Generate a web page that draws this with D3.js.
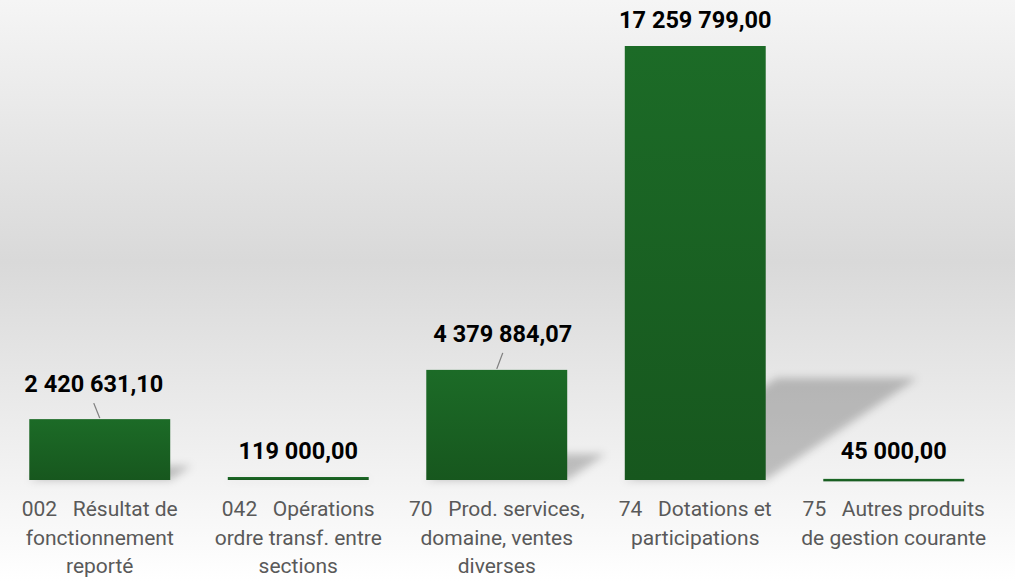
<!DOCTYPE html>
<html>
<head>
<meta charset="utf-8">
<script src="https://cdn.jsdelivr.net/npm/d3@7"></script>
<style>
  body { margin: 0; }
  svg { display: block; }
</style>
</head>
<body>
<div id="chart"></div>
<script>
// data
const codes = ["002", "042", "70", "74", "75"];
const labelLines = [
    ["002   Résultat de", "fonctionnement", "reporté"],
    ["042   Opérations", "ordre transf. entre", "sections"],
    ["70   Prod. services,", "domaine, ventes", "diverses"],
    ["74   Dotations et", "participations"],
    ["75   Autres produits", "de gestion courante"]
];
const amounts = [2420631.10, 119000.00, 4379884.07, 17259799.00, 45000.00];

// labels moved by hand in the original (dx, dy), with leader line
const labelNudge = [[-6, -9], [0, 0], [6, -10], [0, 0], [0, 0]];

const width = 1015, height = 581;
const baseY = 480, topY = 46;

const fr = d3.formatLocale({decimal: ",", thousands: " ", grouping: [3], currency: ["", " €"]});
const fmt = fr.format(",.2f");

const data = codes.map((c, i) => ({code: c, lines: labelLines[i], v: amounts[i], nudge: labelNudge[i]}));

const svg = d3.select("#chart").append("svg")
    .attr("width", width)
    .attr("height", height);

const defs = svg.append("defs");
const bg = defs.append("linearGradient").attr("id", "bg")
    .attr("x1", 0).attr("y1", 0).attr("x2", 0).attr("y2", 1);
bg.append("stop").attr("offset", "0%").attr("stop-color", "#f5f5f5");
bg.append("stop").attr("offset", "45%").attr("stop-color", "#d9d9d9");
bg.append("stop").attr("offset", "100%").attr("stop-color", "#ffffff");

const barGrad = defs.append("linearGradient").attr("id", "barGrad")
    .attr("x1", 0).attr("y1", 0).attr("x2", 0).attr("y2", 1);
barGrad.append("stop").attr("offset", "0%").attr("stop-color", "#1c6b27");
barGrad.append("stop").attr("offset", "100%").attr("stop-color", "#17571e");

defs.append("filter").attr("id", "blur")
    .attr("x", "-20%").attr("y", "-20%").attr("width", "140%").attr("height", "140%")
    .append("feGaussianBlur").attr("stdDeviation", 4);

svg.append("rect")
    .attr("width", width).attr("height", height)
    .attr("fill", "url(#bg)");

const x = d3.scaleBand()
    .domain(codes)
    .range([0.5, 993])
    .paddingInner(0.29)
    .paddingOuter(0.145);

const y = d3.scaleLinear()
    .domain([0, d3.max(amounts)])
    .range([baseY, topY]);

// perspective shadows
svg.append("g")
    .attr("filter", "url(#blur)")
    .selectAll("path")
    .data(data)
    .join("path")
    .attr("fill", "#000")
    .attr("fill-opacity", 0.22)
    .attr("d", d => {
        const x0 = x(d.code), x1 = x0 + x.bandwidth();
        const h = baseY - y(d.v);
        const sx = 0.35 * h, sy = 0.235 * h;
        return `M${x0},${baseY}L${x1},${baseY}L${x1 + sx},${baseY - sy}L${x0 + sx},${baseY - sy}Z`;
    });

// bars
svg.append("g")
    .selectAll("rect")
    .data(data)
    .join("rect")
    .attr("x", d => x(d.code))
    .attr("y", d => y(d.v))
    .attr("width", x.bandwidth())
    .attr("height", d => Math.max(2.5, baseY - y(d.v)))
    .attr("fill", "url(#barGrad)");

// leader lines
svg.append("g")
    .selectAll("line")
    .data(data.filter(d => d.nudge[1] !== 0))
    .join("line")
    .attr("x1", d => x(d.code) + x.bandwidth() / 2 + d.nudge[0])
    .attr("y1", d => y(d.v) - 18 + d.nudge[1] + 11)
    .attr("x2", d => x(d.code) + x.bandwidth() / 2)
    .attr("y2", d => y(d.v) - 1)
    .attr("stroke", "#808080")
    .attr("stroke-width", 1.3);

// value labels
svg.append("g")
    .selectAll("text")
    .data(data)
    .join("text")
    .attr("x", d => x(d.code) + x.bandwidth() / 2 + d.nudge[0])
    .attr("y", d => Math.min(y(d.v), baseY - 3) - 18 + d.nudge[1])
    .attr("text-anchor", "middle")
    .attr("font-family", "Roboto, sans-serif")
    .attr("font-weight", "bold")
    .attr("font-size", 23.5)
    .attr("fill", "#000")
    .text(d => fmt(d.v));

// category labels
const cat = svg.append("g")
    .selectAll("text")
    .data(data)
    .join("text")
    .attr("text-anchor", "middle")
    .attr("font-family", "Roboto, sans-serif")
    .attr("font-size", 21)
    .attr("fill", "#595959")
    .style("white-space", "pre");
cat.selectAll("tspan")
    .data(d => d.lines.map(l => ({l, cx: x(d.code) + x.bandwidth() / 2})))
    .join("tspan")
    .attr("x", t => t.cx)
    .attr("y", (t, i) => 516 + i * 28.5)
    .text(t => t.l);
</script>
</body>
</html>
